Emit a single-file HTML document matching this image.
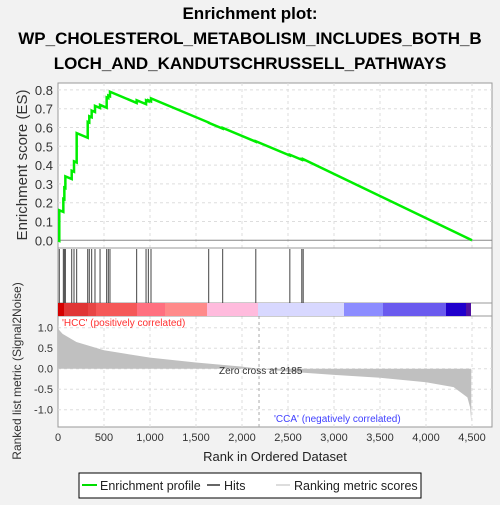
<!DOCTYPE html>
<html><head><meta charset="utf-8"><style>
body{margin:0;background:#f2f2f2;font-family:"Liberation Sans",sans-serif}
</style></head><body>
<svg width="500" height="500" viewBox="0 0 500 500" font-family="Liberation Sans, sans-serif">
<rect width="500" height="500" fill="#f2f2f2"/>
<g font-weight="bold" font-size="17" text-anchor="middle" fill="#000">
<text x="250" y="19">Enrichment plot:</text>
<text x="250" y="44">WP_CHOLESTEROL_METABOLISM_INCLUDES_BOTH_B</text>
<text x="250" y="69">LOCH_AND_KANDUTSCHRUSSELL_PATHWAYS</text>
</g>
<rect x="58" y="83" width="434" height="344" fill="#fff" stroke="#999"/>
<g id="grid" stroke="#ddd" stroke-dasharray="3,3"></g>
<line x1="58" y1="248" x2="492" y2="248" stroke="#999"/>
<line x1="58" y1="303" x2="492" y2="303" stroke="#999"/>
<line x1="58" y1="316" x2="492" y2="316" stroke="#999"/>
<g id="colorbar"></g>
<g id="hits"></g>
<g id="metric"></g>
<g id="es"></g>
<g id="axes" font-size="13" fill="#333"></g>
<text x="62" y="326" font-size="10" fill="#ff3030">'HCC' (positively correlated)</text>
<text x="274" y="422" font-size="10" fill="#4040ff">'CCA' (negatively correlated)</text>
<text x="219" y="374" font-size="10" fill="#333">Zero cross at 2185</text>
<text x="275" y="461" font-size="13" text-anchor="middle" fill="#222">Rank in Ordered Dataset</text>
<text transform="translate(27,165) rotate(-90)" font-size="15" text-anchor="middle" fill="#333">Enrichment score (ES)</text>
<text transform="translate(21,371) rotate(-90)" font-size="12" text-anchor="middle" fill="#333">Ranked list metric (Signal2Noise)</text>
<g>
<rect x="79" y="473" width="342" height="25" fill="#fff" stroke="#000"/>
<line x1="82" y1="485" x2="97" y2="485" stroke="#00dd00" stroke-width="2"/>
<text x="100" y="490" font-size="12.5" fill="#222">Enrichment profile</text>
<line x1="207" y1="485" x2="220" y2="485" stroke="#666" stroke-width="2"/>
<text x="224" y="490" font-size="12.5" fill="#222">Hits</text>
<line x1="276" y1="485" x2="290" y2="485" stroke="#ddd" stroke-width="2"/>
<text x="294" y="490" font-size="12.5" fill="#222">Ranking metric scores</text>
</g>
</svg>
<script>
const hitRanks=[14,58,69,80,149,174,203,323,340,366,402,457,529,547,565,855,957,982,1011,1638,1790,2150,2520,2650,2665];
const esAfterHit=[0.16,0.22,0.28,0.34,0.37,0.42,0.57,0.63,0.66,0.69,0.715,0.72,0.76,0.77,0.79,0.745,0.745,0.745,0.755,0.625,0.598,0.527,0.455,0.432,0.432];
const metricRanks=[0,10,50,200,500,1000,1500,2000,2185,2500,3000,3500,4000,4300,4450,4480,4492];
const metricValues=[1.08,0.95,0.85,0.65,0.45,0.27,0.15,0.05,0,-0.07,-0.15,-0.22,-0.33,-0.45,-0.7,-0.95,-1.3];
const xTicks=[0,500,1000,1500,2000,2500,3000,3500,4000,4500];
const esTicks=[0,0.1,0.2,0.3,0.4,0.5,0.6,0.7,0.8];
const metricTicks=[1.0,0.5,0.0,-0.5,-1.0];
const N=4500, decay=0.000205;
const NS="http://www.w3.org/2000/svg";
const X=r=>58+r*414/4500;
const YE=v=>240.3-v*188;
const YM=v=>368.7-v*41;
function mk(t,a,p){const e=document.createElementNS(NS,t);for(const k in a)e.setAttribute(k,a[k]);p.appendChild(e);return e;}
const grid=document.getElementById('grid');
xTicks.forEach(t=>{if(t>0){mk('line',{x1:X(t),y1:83,x2:X(t),y2:248},grid);mk('line',{x1:X(t),y1:316,x2:X(t),y2:427},grid);}});
esTicks.forEach(t=>{if(t>0)mk('line',{x1:58,y1:YE(t),x2:492,y2:YE(t)},grid);});
metricTicks.forEach(t=>mk('line',{x1:58,y1:YM(t),x2:492,y2:YM(t)},grid));
mk('line',{x1:58,y1:YE(0),x2:492,y2:YE(0),stroke:'#888','stroke-dasharray':'none'},grid);
mk('line',{x1:X(2185),y1:316,x2:X(2185),y2:427,stroke:'#aaa'},grid);
const cb=document.getElementById('colorbar');
[[58,64,'#d40000'],[64,88,'#e03535'],[88,96,'#e84545'],[96,137,'#f55858'],[137,165,'#ff7080'],[165,207,'#ff8a8a'],[207,258,'#ffbbdd'],[258,344,'#d8d8ff'],[344,383,'#8c8cff'],[383,446,'#6a5aee'],[446,466,'#2000cc'],[466,471,'#5010a0']].forEach(s=>{
 const r=mk('rect',{x:s[0],y:303,width:s[1]-s[0],height:13,fill:s[2]},cb);
 
 
});
const hg=document.getElementById('hits');
hitRanks.forEach(r=>{
 const l=mk('line',{x1:X(r),y1:249,x2:X(r),y2:303,stroke:'#444','stroke-width':1},hg);
 
 
});
let d='M'+X(0)+','+YM(0);
metricRanks.forEach((r,i)=>{d+=' L'+X(r)+','+YM(metricValues[i]);});
d+=' L'+X(metricRanks[metricRanks.length-1])+','+YM(0)+' Z';
const ma=mk('path',{d:d,fill:'#c0c0c0'},document.getElementById('metric'));


let pts=[[0,0]],prev=0,prevR=0;
hitRanks.forEach((r,i)=>{const before=prev-decay*(r-prevR);pts.push([r,before]);pts.push([r,esAfterHit[i]]);prev=esAfterHit[i];prevR=r;});
pts.push([N,0]);
const es=mk('polyline',{points:pts.map(p=>X(p[0])+','+YE(p[1])).join(' '),fill:'none',stroke:'#00ee00','stroke-width':2.5},document.getElementById('es'));


const ax=document.getElementById('axes');
xTicks.forEach(t=>{const e=mk('text',{x:X(t),y:441,'text-anchor':'middle','font-size':11},ax);e.textContent=t.toLocaleString('en-US');
 });
esTicks.forEach(t=>{const e=mk('text',{x:53,y:YE(t)+5,'text-anchor':'end'},ax);e.textContent=t.toFixed(1);
 });
metricTicks.forEach(t=>{const e=mk('text',{x:53,y:YM(t)+4,'text-anchor':'end','font-size':11},ax);e.textContent=t.toFixed(1);
 });
</script>
</body></html>
